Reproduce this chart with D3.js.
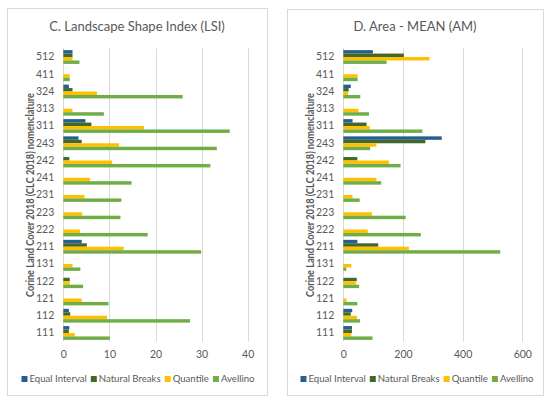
<!DOCTYPE html>
<html>
<head>
<meta charset="utf-8">
<script src="https://cdn.jsdelivr.net/npm/d3@7"></script>
<style>
  body { margin: 0; background: #fff; }
  text { font-family: Lato, "Open Sans", sans-serif; }
</style>
</head>
<body>
<div id="chart"></div>
<script>
// categories (CLC 2018 codes), top to bottom
var categories = ["512", "411", "324", "313", "311", "243", "242", "241", "231",
                  "223", "222", "211", "131", "122", "121", "112", "111"];
var seriesNames = ["Equal Interval", "Natural Breaks", "Quantile", "Avellino"];
var seriesColors = ["#255e91", "#43682b", "#ffc000", "#70ad47"];

// C. Landscape Shape Index
var lsiEqual    = [2.0, null, 1.2, null, 4.8, 3.3, null, null, null, null, null, 4.0, null, null, null, 1.2, 1.3];
var lsiNatural  = [2.0, null, 2.0, null, 6.1, 4.0, 1.3, null, null, null, null, 5.1, null, 1.4, null, 1.5, 1.2];
var lsiQuantile = [2.0, 1.4, 7.3, 2.0, 17.5, 12.1, 10.6, 5.8, 4.6, 4.1, 3.6, 13.1, 2.0, 1.4, 4.0, 9.5, 2.5];
var lsiAvellino = [3.5, 1.4, 25.9, 8.8, 36.1, 33.3, 31.9, 14.8, 12.6, 12.4, 18.3, 29.9, 3.7, 4.3, 9.8, 27.5, 10.1];
var lsiTicks = [0, 10, 20, 30, 40];

// D. Area - MEAN
var amEqual    = [99, null, 25, null, 31, 330, null, null, null, null, null, 47, null, null, null, 30, 29];
var amNatural  = [203, null, 18, null, 78, 275, 47, null, null, null, null, 117, null, 45, null, 25, 29];
var amQuantile = [289, 48, 16, 51, 89, 111, 153, 111, 31, 96, 82, 220, 27, 42, 11, 46, 27];
var amAvellino = [145, 48, 57, 86, 265, 90, 192, 127, 55, 209, 260, 526, 10, 53, 47, 56, 98];
var amTicks = [0, 200, 400, 600];

var yTitle = "Corine Land Cover 2018 (CLC 2018) nomenclature";

var svg = d3.select("#chart").append("svg")
    .attr("width", 550)
    .attr("height", 401);

function drawPanel(p) {
    var g = svg.append("g");

    // outer frame
    g.append("rect")
        .attr("x", p.box[0] + 0.5).attr("y", p.box[1] + 0.5)
        .attr("width", p.box[2]).attr("height", p.box[3])
        .attr("fill", "#fff").attr("stroke", "#d9d9d9");

    var x = d3.scaleLinear().domain([0, p.ticks[p.ticks.length - 1]]).range([p.x0, p.x1]);
    var y = d3.scaleBand().domain(categories).range([p.y0, p.y1]).paddingInner(0.2).paddingOuter(0.1);
    var ySub = d3.scaleBand().domain(d3.range(seriesNames.length)).range([0, y.bandwidth()]);

    // gridlines
    g.selectAll(".grid").data(p.ticks).enter().append("line")
        .attr("x1", d => Math.round(x(d)) + 0.5).attr("x2", d => Math.round(x(d)) + 0.5)
        .attr("y1", p.y0).attr("y2", p.y1)
        .attr("stroke", "#d9d9d9").attr("stroke-width", 1);

    // bars
    p.series.forEach(function(vals, si) {
        g.selectAll(".bar" + si)
            .data(categories.map((c, i) => ({cat: c, v: vals[i]})).filter(d => d.v != null))
            .enter().append("rect")
            .attr("x", x(0))
            .attr("y", d => y(d.cat) + ySub(si))
            .attr("width", d => x(d.v) - x(0))
            .attr("height", ySub.bandwidth())
            .attr("fill", seriesColors[si]);
    });

    // axes
    var bottomAxis = d3.axisBottom(x).tickValues(p.ticks).tickSize(0).tickPadding(9);
    var ax = g.append("g").attr("transform", "translate(0," + p.y1 + ")").call(bottomAxis);
    ax.select(".domain").remove();
    ax.selectAll("text").attr("fill", "#595959").style("font-size", "10.5px");

    var leftAxis = d3.axisLeft(y).tickSize(0).tickPadding(9);
    var ay = g.append("g").attr("transform", "translate(" + p.x0 + ",0)").call(leftAxis);
    ay.select(".domain").remove();
    ay.selectAll("text").attr("fill", "#595959").style("font-size", "10.5px");

    // titles
    g.append("text")
        .attr("x", p.titleX).attr("y", p.titleY)
        .attr("text-anchor", "middle")
        .attr("fill", "#595959")
        .style("font-size", "13px")
        .text(p.title);

    // y title, squeezed to the narrow width of the original font
    g.append("text")
        .attr("transform", "translate(" + p.yTitleX + "," + ((p.y0 + p.y1) / 2) + ") rotate(-90)")
        .attr("text-anchor", "middle")
        .attr("fill", "#595959")
        .attr("font-weight", "bold")
        .attr("textLength", 204)
        .attr("lengthAdjust", "spacingAndGlyphs")
        .style("font-size", "10.5px")
        .text(yTitle);

    // legend
    var leg = g.append("g");
    var cx = 0;
    seriesNames.forEach(function(name, i) {
        leg.append("rect").attr("x", cx).attr("y", -6).attr("width", 6).attr("height", 6)
            .attr("fill", seriesColors[i]);
        var t = leg.append("text").attr("x", cx + 8).attr("y", 0)
            .attr("fill", "#595959").style("font-size", "9.6px").text(name);
        cx += 8 + t.node().getComputedTextLength() + 4;
    });
    leg.attr("transform", "translate(" + (p.legendX - (cx - 4) / 2) + "," + p.legendY + ")");
}

drawPanel({
    box: [7, 8, 260, 387],
    x0: 63.3, x1: 247.7, y0: 48.4, y1: 341.6,
    ticks: lsiTicks,
    series: [lsiEqual, lsiNatural, lsiQuantile, lsiAvellino],
    title: "C. Landscape Shape Index (LSI)",
    titleX: 137, titleY: 31,
    yTitleX: 34,
    legendX: 138, legendY: 382
});

drawPanel({
    box: [287, 9, 256, 386],
    x0: 343.3, x1: 522.3, y0: 48.4, y1: 341.6,
    ticks: amTicks,
    series: [amEqual, amNatural, amQuantile, amAvellino],
    title: "D. Area - MEAN (AM)",
    titleX: 415, titleY: 31,
    yTitleX: 314,
    legendX: 417, legendY: 382
});
</script>
</body>
</html>
